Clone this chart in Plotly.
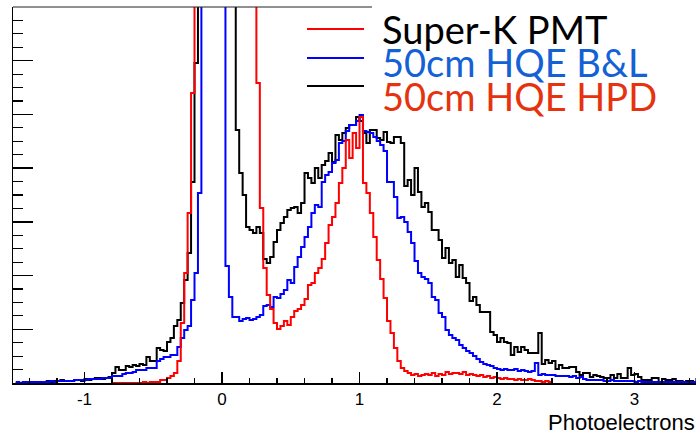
import plotly.graph_objects as go

# ---------------- data (counts per bin, bin width 0.025 photoelectrons) ----------------
BIN_WIDTH = 0.025
HPD_START = -1.5      # black histogram: 50cm HQE HPD
BL_START = -1.5       # blue histogram: 50cm HQE B&L
SK_START = -0.8       # red histogram: Super-K PMT

hpd_counts = [
    0, 0, 0, 0, 1, 1, 1, 1,
    1, 2, 1, 2, 2, 3, 2, 2,
    2, 3, 3, 2, 4, 3, 4, 5,
    5, 4, 5, 6, 10, 16, 13, 13,
    17, 16, 18, 17, 19, 18, 26, 22,
    22, 35, 33, 32, 41, 45, 57, 63,
    80, 103, 130, 201, 320, 450, 600, 720,
    800, 830, 840, 830, 800, 740, 650, 520,
    253, 210, 188, 156, 153, 150, 156, 150,
    124, 120, 126, 141, 153, 160, 166, 173,
    175, 176, 170, 180, 210, 205, 200, 215,
    205, 218, 222, 230, 221, 248, 243, 250,
    255, 258, 258, 266, 262, 250, 240, 253,
    253, 245, 243, 251, 241, 240, 246, 246,
    240, 197, 203, 188, 215, 191, 176, 180,
    171, 153, 153, 143, 125, 135, 120, 123,
    106, 118, 105, 100, 82, 86, 78, 71,
    71, 71, 51, 48, 41, 45, 41, 40,
    28, 36, 31, 36, 33, 30, 30, 30,
    50, 19, 23, 20, 22, 14, 18, 15,
    15, 16, 16, 11, 8, 10, 10, 6,
    8, 7, 6, 5, 5, 8, 5, 9,
    5, 5, 15, 8, 9, 6, 3, 3,
    3, 5, 5, 1, 4, 3, 3, 4,
    2, 2, 1, 2, 2, 1, 4, 2,
]

bl_counts = [
    1, 0, 1, 1, 1, 1, 1, 1,
    1, 1, 2, 1, 2, 2, 2, 2,
    2, 3, 3, 3, 3, 4, 4, 4,
    4, 5, 5, 5, 7, 7, 7, 9,
    10, 10, 11, 13, 13, 13, 15, 15,
    15, 22, 24, 26, 26, 28, 28, 36,
    45, 53, 57, 83, 110, 190, 500, 700,
    800, 830, 820, 780, 700, 117, 86, 66,
    66, 62, 64, 65, 63, 64, 66, 68,
    77, 78, 76, 86, 85, 89, 93, 103,
    100, 116, 126, 136, 146, 156, 170, 178,
    176, 201, 208, 211, 220, 223, 240, 242,
    252, 258, 258, 262, 268, 252, 251, 250,
    246, 242, 238, 232, 201, 201, 186, 165,
    166, 161, 151, 140, 122, 110, 106, 104,
    100, 86, 83, 70, 66, 53, 48, 45,
    43, 38, 35, 32, 30, 27, 24, 21,
    19, 18, 17, 15, 14, 13, 14, 13,
    13, 14, 12, 13, 12, 11, 12, 20,
    8, 9, 8, 8, 8, 7, 7, 7,
    7, 6, 7, 5, 6, 4, 3, 3,
    3, 3, 3, 2, 2, 3, 2, 2,
    2, 2, 2, 2, 1, 2, 1, 1,
    1, 1, 1, 1, 1, 1, 1, 1,
    1, 1, 1, 0, 1, 1, 1, 1,
]

sk_counts = [
    0, 0, 0, 0,
    0, 0, 0, 0, 0, 1, 0, 1,
    1, 1, 3, 3, 5, 7, 10, 22,
    60, 110, 170, 290, 450, 600, 700, 760,
    790, 800, 810, 800, 790, 770, 740, 700,
    660, 610, 560, 500, 450, 400, 300, 175,
    115, 88, 74, 60, 54, 57, 62, 58,
    66, 72, 74, 78, 84, 98, 100, 110,
    115, 124, 140, 158, 166, 180, 200, 215,
    243, 225, 250, 235, 266, 200, 190, 170,
    146, 123, 104, 85, 62, 50, 35, 22,
    15, 12, 10, 8, 9, 7, 8, 9,
    8, 10, 7, 9, 8, 11, 9, 10,
    10, 9, 11, 8, 9, 8, 7, 8,
    6, 7, 5, 6, 5, 4, 5, 4,
    4, 3, 4, 3, 3, 4, 3, 2,
    2, 1, 2, 1,
]

x_tick_values = [-1, 0, 1, 2, 3]
x_tick_labels = ["-1", "0", "1", "2", "3"]

legend_labels = ["Super-K PMT", "50cm HQE B&L", "50cm HQE HPD"]
legend_text_colors = ["#000000", "#1461d6", "#e6320e"]
legend_line_colors = ["#ff0000", "#0000ff", "#000000"]

# ---------------- figure ----------------
W, H = 696, 434
ML, MR, MT, MB = 13, 0, 7, 51
PW, PH = W - ML - MR, H - MT - MB
X_RANGE = [-1.52, 3.447]
Y_RANGE = [0, 376]


def px_x(px):
    return (px - ML) / PW


def px_y(py):
    return (H - MB - py) / PH


def step(start, counts):
    xs = [start + BIN_WIDTH * i for i in range(len(counts) + 1)]
    ys = list(counts) + [counts[-1]]
    return xs, ys


fig = go.Figure()
for start, counts, color in [
    (HPD_START, hpd_counts, "#000000"),
    (BL_START, bl_counts, "#0000ff"),
    (SK_START, sk_counts, "#ff0000"),
]:
    xs, ys = step(start, counts)
    fig.add_trace(go.Scatter(x=xs, y=ys, mode="lines", line=dict(color=color, width=2, shape="hv"),
                             showlegend=False, hoverinfo="skip"))

shapes = []
# top frame line (hidden under legend box on the right)
shapes.append(dict(type="line", xref="paper", yref="paper", x0=0, x1=px_x(372), y0=1, y1=1,
                   line=dict(color="#222222", width=1.2)))
# legend sample lines
for py, c in zip([29, 58, 86], legend_line_colors):
    shapes.append(dict(type="line", xref="paper", yref="paper", x0=px_x(307), x1=px_x(364),
                       y0=px_y(py), y1=px_y(py), line=dict(color=c, width=2)))

annotations = []
for label, c, py in zip(legend_labels, legend_text_colors, [29, 61.5, 96]):
    annotations.append(dict(text=label, xref="paper", yref="paper", x=px_x(380), y=px_y(py),
                            xanchor="left", yanchor="middle", showarrow=False,
                            font=dict(family="Lato", size=38, color=c)))
annotations.append(dict(text="Photoelectrons", xref="paper", yref="paper", x=px_x(546), y=px_y(422),
                        xanchor="left", yanchor="middle", showarrow=False,
                        font=dict(family="Liberation Sans", size=22, color="#000000")))

fig.update_layout(
    width=W, height=H,
    margin=dict(l=ML, r=MR, t=MT, b=MB, pad=0, autoexpand=False),
    paper_bgcolor="white", plot_bgcolor="white",
    shapes=shapes, annotations=annotations,
    xaxis=dict(range=X_RANGE, showgrid=False, zeroline=False, showline=True, linecolor="black",
               linewidth=1.5, ticks="inside", ticklen=11, tickwidth=1.3, tickcolor="black",
               tickvals=x_tick_values, ticktext=x_tick_labels,
               tickfont=dict(family="Liberation Sans", size=17, color="black"),
               minor=dict(ticks="inside", tick0=0, dtick=0.2, ticklen=5.5, tickwidth=1.2,
                          tickcolor="black", showgrid=False),
               automargin=False, fixedrange=True),
    yaxis=dict(range=Y_RANGE, showgrid=False, zeroline=False, showline=True, linecolor="black",
               linewidth=1.5, ticks="inside", tick0=0, dtick=376 / 7, ticklen=20, tickwidth=1.3,
               tickcolor="black", showticklabels=False,
               minor=dict(ticks="inside", tick0=0, dtick=376 / 28, ticklen=10, tickwidth=1.2,
                          tickcolor="black", showgrid=False),
               automargin=False, fixedrange=True),
)

fig.write_html("out.html", config={"displayModeBar": False, "staticPlot": True},
               post_script="document.body.style.margin='0';document.body.style.overflow='hidden';")
